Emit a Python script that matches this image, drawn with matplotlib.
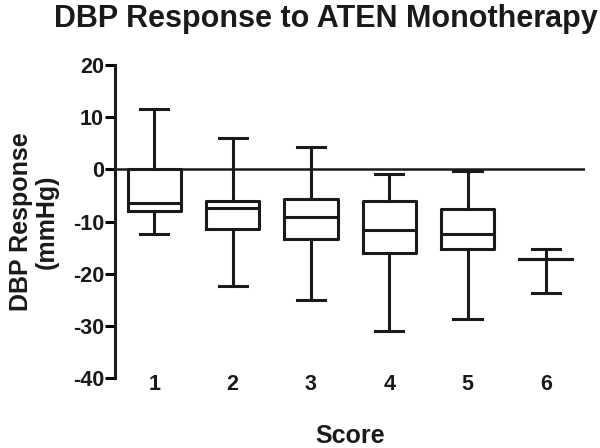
import matplotlib
matplotlib.use("Agg")
import matplotlib.pyplot as plt

plt.rcParams['font.family'] = ['Liberation Sans', 'DejaVu Sans']
plt.rcParams['axes.unicode_minus'] = False

scores = ['1', '2', '3', '4', '5', '6']
# box stats: whisker low, Q1, median, Q3, whisker high
whislo = [-12.4, -22.4, -25.1, -31.0, -28.7, -23.7]
q1 = [-8.0, -11.5, -13.4, -16.1, -15.2, -17.2]
med = [-6.5, -7.5, -9.2, -11.7, -12.3, -17.2]
q3 = [0.0, -6.1, -5.7, -6.1, -7.6, -17.2]
whishi = [11.5, 6.0, 4.2, -0.8, -0.4, -15.3]

stats = []
for i in range(len(scores)):
    stats.append(dict(label=scores[i], whislo=whislo[i], q1=q1[i], med=med[i],
                      q3=q3[i], whishi=whishi[i], fliers=[]))

fig = plt.figure(figsize=(6, 4.48), dpi=100)
ax = fig.add_axes([0.192, 0.156, 0.783, 0.699])

lw = 2.2
ax.axhline(0, color='#1a1a1a', lw=1.8, zorder=1)
ax.bxp(stats, positions=range(1, 7), widths=0.68, capwidths=0.36,
       showfliers=False, patch_artist=False,
       boxprops=dict(color='#1a1a1a', lw=lw),
       whiskerprops=dict(color='#1a1a1a', lw=lw),
       capprops=dict(color='#1a1a1a', lw=lw),
       medianprops=dict(color='#1a1a1a', lw=lw))

ax.set_xlim(0.5, 6.5)
ax.set_ylim(-40, 20)
ax.set_yticks(range(-40, 21, 10))
ax.set_xticks(range(1, 7))
ax.set_xticklabels(scores)
for s in ['top', 'right', 'bottom']:
    ax.spines[s].set_visible(False)
ax.spines['left'].set_linewidth(lw)
ax.spines['left'].set_color('#1a1a1a')
ax.tick_params(axis='y', direction='out', length=7, width=lw, labelsize=15.5, pad=1)
ax.tick_params(axis='x', length=0, labelsize=15.5, pad=-3)
for t in ax.get_xticklabels() + ax.get_yticklabels():
    t.set_fontweight('bold')
    t.set_color('#1a1a1a')

ax.set_ylabel('DBP Response\n(mmHg)', fontsize=18, fontweight='bold', labelpad=10,
              color='#1a1a1a', linespacing=1.1)
ax.set_xlabel('Score', fontsize=18, fontweight='bold', labelpad=21, color='#1a1a1a')
fig.text(0.543, 1 - 19 / 448, 'DBP Response to ATEN Monotherapy', ha='center', va='center',
         fontsize=22, fontweight='bold', color='#1a1a1a')

fig.savefig('out.png', dpi=100)
